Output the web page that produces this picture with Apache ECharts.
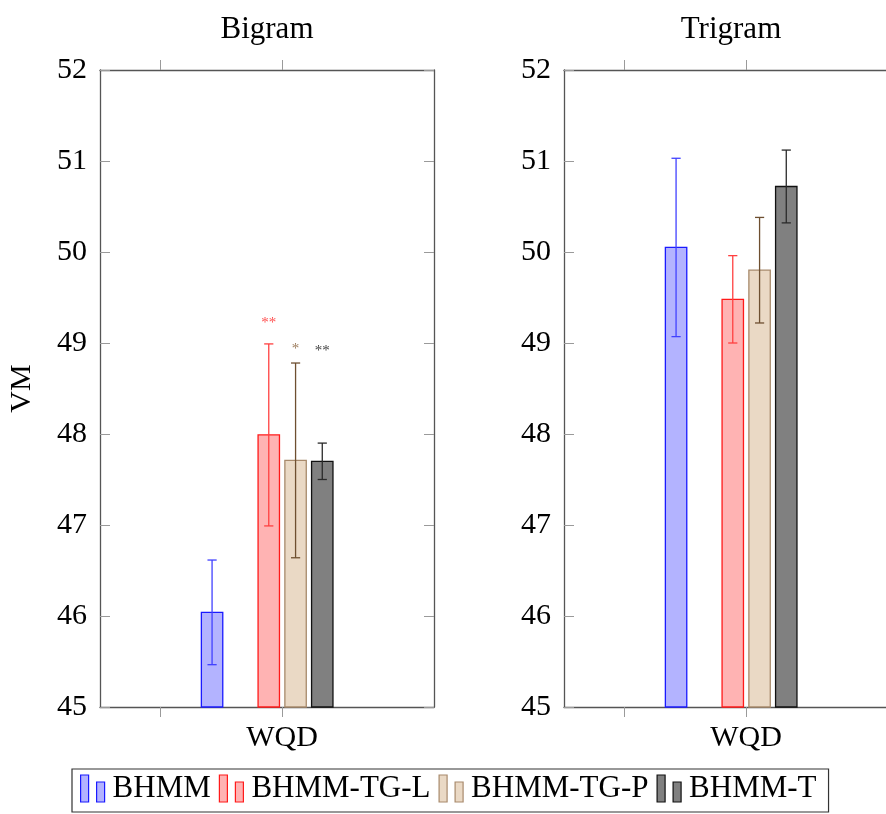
<!DOCTYPE html>
<html>
<head>
<meta charset="utf-8">
<script src="https://cdn.jsdelivr.net/npm/echarts@6/dist/echarts.min.js"></script>
<style>
  html, body { margin: 0; padding: 0; background: #fff; overflow: hidden; }
  #chart { width: 886px; height: 814px; }
</style>
</head>
<body>
<div id="chart"></div>
<script>
// ---- data ----
const methods = ['BHMM', 'BHMM-TG-L', 'BHMM-TG-P', 'BHMM-T'];
const panels = ['Bigram', 'Trigram'];
const xTickLabels = ['', 'WQD'];          // x ticks at positions 0 and 1
const category = 1;                       // WQD sits on tick 1
const yMin = 45, yMax = 52, yStep = 1;

const bigramVM  = [46.04, 47.99, 47.71, 47.70];
const bigramErr = [0.575, 1.00, 1.07, 0.20];
const bigramSig = ['', '**', '*', '**'];
const bigramSigAt = [null, 49.22, 48.93, 48.91];

const trigramVM  = [50.05, 49.48, 49.80, 50.72];
const trigramErr = [0.98, 0.48, 0.58, 0.40];
const trigramSig = ['', '', '', ''];
const trigramSigAt = [null, null, null, null];

// ---- styles / layout ----
const FONT = 'Liberation Serif';
const fills   = ['#b3b3ff', '#ffb3b3', '#ead9c5', '#808080'];
const borders = ['#1a1aff', '#ff1a1a', '#a88a6c', '#111111'];
const errCols = ['#4040ff', '#ff4040', '#6e4f30', '#2a2a2a'];
const sigCols = ['#4040ff', '#ff5050', '#9c7c5c', '#444444'];
const barOffsetPx = [-70, -13.3, 13.5, 40.2];
const barWidthPx = 21.4;
const capHalf = 4.6;

const panelData = [
  { vm: bigramVM, err: bigramErr, sig: bigramSig, sigAt: bigramSigAt },
  { vm: trigramVM, err: trigramErr, sig: trigramSig, sigAt: trigramSigAt }
];

// the second panel runs past the right edge of the canvas
const grids = [
  { left: 100, top: 70, width: 334, height: 637, outerBoundsMode: 'none', containLabel: false },
  { left: 564, top: 70, width: 334, height: 637, outerBoundsMode: 'none', containLabel: false }
];
const xMin = -0.492, xMax = 2.245;

const axisLineStyle = { color: '#555', width: 1.3 };
const tickLineStyle = { color: '#9a9a9a', width: 1 };

const xAxes = [], yAxes = [], series = [], titles = [];

panels.forEach((p, i) => {
  titles.push({
    text: p, left: grids[i].left + grids[i].width / 2 - 5, top: 9, textAlign: 'center',
    textStyle: { fontFamily: FONT, fontSize: 31, fontWeight: 'normal', color: '#000' }
  });
  // bottom x axis (labelled) and top x axis (frame + ticks)
  ['bottom', 'top'].forEach(pos => {
    xAxes.push({
      gridIndex: i, type: 'value', position: pos, min: xMin, max: xMax,
      axisLine: { show: true, onZero: false, lineStyle: axisLineStyle },
      axisTick: { show: true, inside: false, length: 10, customValues: [0, 1], lineStyle: tickLineStyle },
      axisLabel: {
        show: pos === 'bottom', customValues: [category], margin: 16,
        formatter: v => xTickLabels[Math.round(v)] || '',
        fontFamily: FONT, fontSize: 30, color: '#000'
      },
      splitLine: { show: false }
    });
  });
  // left y axis (labelled) and right y axis (frame + ticks)
  ['left', 'right'].forEach(pos => {
    const ax = {
      gridIndex: i, type: 'value', position: pos, min: yMin, max: yMax, interval: yStep,
      axisLine: { show: true, onZero: false, lineStyle: axisLineStyle },
      axisTick: { show: true, inside: true, length: 10, lineStyle: tickLineStyle },
      axisLabel: { show: pos === 'left', margin: 13, fontFamily: FONT, fontSize: 30, color: '#000' },
      splitLine: { show: false }
    };
    if (i === 0 && pos === 'left') {
      ax.name = 'VM';
      ax.nameLocation = 'middle';
      ax.nameGap = 63;
      ax.nameTextStyle = { fontFamily: FONT, fontSize: 30, color: '#000' };
    }
    yAxes.push(ax);
  });

  const d = panelData[i];
  methods.forEach((m, k) => {
    series.push({
      type: 'custom', name: m,
      xAxisIndex: 2 * i, yAxisIndex: 2 * i,
      clip: false,
      itemStyle: { color: fills[k], borderColor: borders[k] },
      data: [[category, d.vm[k], d.err[k]]],
      renderItem: (params, api) => {
        const x = api.value(0), v = api.value(1), e = api.value(2);
        const base = api.coord([x, yMin]);
        const top = api.coord([x, v]);
        const cx = base[0] + barOffsetPx[k];
        const hi = api.coord([x, v + e])[1];
        const lo = api.coord([x, v - e])[1];
        const children = [
          { type: 'rect',
            shape: { x: cx - barWidthPx / 2, y: top[1], width: barWidthPx, height: base[1] - top[1] },
            style: { fill: fills[k], stroke: borders[k], lineWidth: 1.3 } },
          { type: 'line', shape: { x1: cx, y1: hi, x2: cx, y2: lo },
            style: { stroke: errCols[k], lineWidth: 1.3 } },
          { type: 'line', shape: { x1: cx - capHalf, y1: hi, x2: cx + capHalf, y2: hi },
            style: { stroke: errCols[k], lineWidth: 1.3 } },
          { type: 'line', shape: { x1: cx - capHalf, y1: lo, x2: cx + capHalf, y2: lo },
            style: { stroke: errCols[k], lineWidth: 1.3 } }
        ];
        if (d.sig[k]) {
          const sy = api.coord([x, d.sigAt[k]])[1];
          children.push({
            type: 'text',
            style: { text: d.sig[k], x: cx, y: sy, align: 'center', verticalAlign: 'middle',
                     fill: sigCols[k], font: '15px "' + FONT + '"' }
          });
        }
        return { type: 'group', children };
      }
    });
  });
});

const legendIcon = 'path://M0,0H8V27H0Z M16,7H24V27H16Z';

const chart = echarts.init(document.getElementById('chart'), null, { renderer: 'canvas' });
chart.setOption({
  animation: false,
  backgroundColor: '#fff',
  textStyle: { fontFamily: FONT },
  title: titles,
  grid: grids,
  xAxis: xAxes,
  yAxis: yAxes,
  legend: {
    left: 72, top: 769,
    orient: 'horizontal',
    selectedMode: false,
    itemWidth: 24, itemHeight: 27, itemGap: 8,
    borderColor: '#333', borderWidth: 1.2,
    padding: [4, 12, 8, 8],
    textStyle: { fontFamily: FONT, fontSize: 31, color: '#000', padding: [0, 0, 0, 3] },
    data: methods.map((m, k) => ({
      name: m, icon: legendIcon,
      itemStyle: { color: fills[k], borderColor: borders[k], borderWidth: 1.2 }
    }))
  },
  series
});
</script>
</body>
</html>
